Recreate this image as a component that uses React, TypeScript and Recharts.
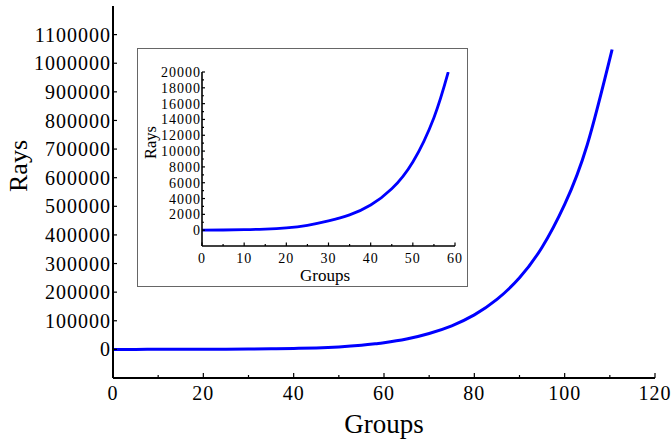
import React from 'react';
import { LineChart, Line, XAxis, YAxis } from 'recharts';

const groups = [0, 5, 10, 15, 20, 25, 30, 35, 40, 45, 50, 55, 58.4, 60, 65, 70, 75, 80, 85, 90, 95, 100, 105, 110.5];
const rays = [10, 25, 60, 140, 300, 620, 1170, 1930, 3180, 5240, 8630, 14230, 20000, 23300, 36500, 55600, 82500, 120600, 174600, 250300, 357000, 506600, 715300, 1048000];

const mainXTicks = [0, 10, 20, 30, 40, 50, 60, 70, 80, 90, 100, 110, 120];
const mainXLabels = [0, 20, 40, 60, 80, 100, 120];
const mainYTicks = [0, 100000, 200000, 300000, 400000, 500000, 600000, 700000, 800000, 900000, 1000000, 1100000];

const insetXTicks = [0, 5, 10, 15, 20, 25, 30, 35, 40, 45, 50, 55, 60];
const insetXLabels = [0, 10, 20, 30, 40, 50, 60];
const insetYTicks = [0, 1000, 2000, 3000, 4000, 5000, 6000, 7000, 8000, 9000, 10000, 11000, 12000, 13000, 14000, 15000, 16000, 17000, 18000, 19000, 20000];
const insetYLabels = [0, 2000, 4000, 6000, 8000, 10000, 12000, 14000, 16000, 18000, 20000];
const insetMaxGroup = 58.4;

const mainData = groups.map((g, i) => ({ group: g, rays: rays[i] }));
const insetData = mainData.filter((d) => d.group <= insetMaxGroup);

const FONT = '"Liberation Serif", "Times New Roman", serif';

const makeXTick = (labels: number[], margin: number, major: number, minor: number, fs: number) => (props: any) => {
  const { x, y, payload } = props;
  const v = payload.value;
  const isMajor = labels.includes(v);
  const ay = y - margin;
  return (
    <g>
      <line x1={x} x2={x} y1={ay} y2={ay - (isMajor ? major : minor)} stroke="#000" strokeWidth={1.2} />
      {isMajor ? (
        <text x={x} y={y} dy="0.71em" textAnchor="middle" fontFamily={FONT} fontSize={fs} letterSpacing={1} fill="#000">
          {String(v)}
        </text>
      ) : null}
    </g>
  );
};

const makeYTick = (labels: number[], margin: number, major: number, minor: number, fs: number) => (props: any) => {
  const { x, y, payload } = props;
  const v = payload.value;
  const isMajor = labels.includes(v);
  const ax = x + margin;
  return (
    <g>
      <line x1={ax} x2={ax + (isMajor ? major : minor)} y1={y} y2={y} stroke="#000" strokeWidth={1.2} />
      {isMajor ? (
        <text x={x} y={y} dy="0.355em" textAnchor="end" fontFamily={FONT} fontSize={fs} letterSpacing={1} fill="#000">
          {String(v)}
        </text>
      ) : null}
    </g>
  );
};

const MainXTick = makeXTick(mainXLabels, 8, 5, 3, 20);
const MainYTick = makeYTick(mainYTicks, 2, 4, 4, 20);
const InsetXTick = makeXTick(insetXLabels, 7, 3.5, 2, 14);
const InsetYTick = makeYTick(insetYLabels, 1, 3, 2, 14);

export default function App() {
  return (
    <div style={{ position: 'absolute', left: 0, top: 0, width: 672, height: 440, background: '#fff' }}>
      <LineChart width={672} height={440} data={mainData} margin={{ top: 6, right: 17, bottom: 0, left: 0 }}>
        <XAxis
          dataKey="group"
          type="number"
          domain={[0, 120]}
          ticks={mainXTicks}
          interval={0}
          tickSize={0}
          tickMargin={8}
          tickLine={false}
          axisLine={{ stroke: '#000', strokeWidth: 2 }}
          tick={(p: any) => <MainXTick {...p} />}
          height={62}
          label={() => (
            <text x={384} y={433} textAnchor="middle" fontFamily={FONT} fontSize={27} fill="#000">
              Groups
            </text>
          )}
        />
        <XAxis
          xAxisId="top"
          orientation="top"
          dataKey="group"
          type="number"
          domain={[0, 120]}
          height={0}
          tick={false}
          tickLine={false}
          axisLine={{ stroke: '#000', strokeWidth: 2 }}
        />
        <YAxis
          type="number"
          domain={[-100000, 1200000]}
          ticks={mainYTicks}
          interval={0}
          tickSize={0}
          tickMargin={2}
          tickLine={false}
          axisLine={{ stroke: '#000', strokeWidth: 2 }}
          tick={(p: any) => <MainYTick {...p} />}
          width={113}
          allowDataOverflow
          label={() => (
            <text
              x={18}
              y={166}
              transform="rotate(-90 18 166)"
              textAnchor="middle"
              dominantBaseline="central"
              fontFamily={FONT}
              fontSize={26}
              fill="#000"
            >
              Rays
            </text>
          )}
        />
        <YAxis
          yAxisId="right"
          orientation="right"
          type="number"
          domain={[-100000, 1200000]}
          width={0}
          tick={false}
          tickLine={false}
          axisLine={{ stroke: '#000', strokeWidth: 2 }}
        />
        <Line dataKey="rays" type="natural" stroke="#0000ff" strokeWidth={3} dot={false} isAnimationActive={false} />
      </LineChart>
      <div
        style={{
          position: 'absolute',
          left: 137,
          top: 48,
          width: 331,
          height: 239,
          background: '#fff',
          outline: '1.5px solid #666',
          outlineOffset: -1.5,
        }}
      >
        <LineChart width={331} height={239} data={insetData} margin={{ top: 24, right: 13, bottom: 0, left: 0 }}>
          <XAxis
            dataKey="group"
            type="number"
            domain={[0, 60]}
            ticks={insetXTicks}
            interval={0}
            tickSize={0}
            tickMargin={7}
            tickLine={false}
            axisLine={{ stroke: '#000', strokeWidth: 1.6 }}
            tick={(p: any) => <InsetXTick {...p} />}
            height={41}
            label={() => (
              <text x={188} y={233} textAnchor="middle" fontFamily={FONT} fontSize={17} fill="#000">
                Groups
              </text>
            )}
          />
          <YAxis
            type="number"
            domain={[-2000, 20000]}
            ticks={insetYTicks}
            interval={0}
            tickSize={0}
            tickMargin={1}
            tickLine={false}
            axisLine={{ stroke: '#000', strokeWidth: 1.6 }}
            tick={(p: any) => <InsetYTick {...p} />}
            width={65}
            allowDataOverflow
            label={() => (
              <text
                x={13}
                y={94.5}
                transform="rotate(-90 13 94.5)"
                textAnchor="middle"
                dominantBaseline="central"
                fontFamily={FONT}
                fontSize={16.5}
                fill="#000"
              >
                Rays
              </text>
            )}
          />
          <Line dataKey="rays" type="natural" stroke="#0000ff" strokeWidth={2.8} dot={false} isAnimationActive={false} />
        </LineChart>
      </div>
    </div>
  );
}
